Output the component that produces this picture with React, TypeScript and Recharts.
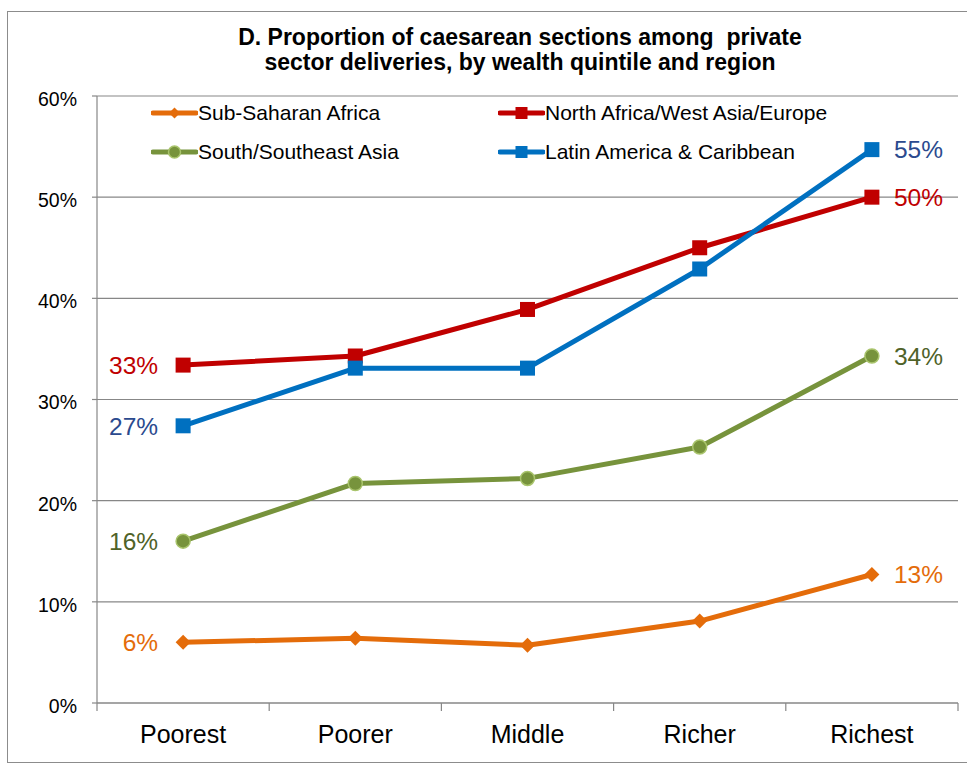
import React from 'react';
import { LineChart, Line, XAxis, YAxis, CartesianGrid, Legend, LabelList } from 'recharts';

// Wealth quintiles along the x axis
const quintiles = ['Poorest', 'Poorer', 'Middle', 'Richer', 'Richest'];

// Share of private-sector deliveries by caesarean section (%)
const subSaharanAfrica = [6.0, 6.4, 5.7, 8.1, 12.7];
const northAfricaWestAsiaEurope = [33.4, 34.3, 38.9, 45.0, 50.0];
const southSoutheastAsia = [16.0, 21.7, 22.2, 25.3, 34.3];
const latinAmericaCaribbean = [27.4, 33.1, 33.1, 42.9, 54.7];

// Y axis tick values (%)
const percentTicks = [0, 10, 20, 30, 40, 50, 60];

const titleLines = [
  'D. Proportion of caesarean sections among  private',
  'sector deliveries, by wealth quintile and region',
];

const FONT = "'Liberation Sans', Arial, sans-serif";
const AXIS_GRAY = '#878787';

type MarkerShape = 'diamond' | 'square' | 'circle';

interface SeriesDef {
  key: string;
  name: string;
  values: number[];
  color: string;
  labelColor: string;
  marker: MarkerShape;
}

// Drawing order keeps the blue line above the red one where they cross;
// the legend reads left-to-right, top-to-bottom in this same order.
const series: SeriesDef[] = [
  { key: 'ssa', name: 'Sub-Saharan Africa', values: subSaharanAfrica, color: '#E46C0A', labelColor: '#E46C0A', marker: 'diamond' },
  { key: 'nawae', name: 'North Africa/West Asia/Europe', values: northAfricaWestAsiaEurope, color: '#C00000', labelColor: '#C00000', marker: 'square' },
  { key: 'ssea', name: 'South/Southeast Asia', values: southSoutheastAsia, color: '#77933C', labelColor: '#4F6228', marker: 'circle' },
  { key: 'lac', name: 'Latin America & Caribbean', values: latinAmericaCaribbean, color: '#0070C0', labelColor: '#2B4A8E', marker: 'square' },
];

const rows = quintiles.map((q, i) => {
  const row: Record<string, number | string> = { pos: i + 1, quintile: q };
  series.forEach((s) => {
    row[s.key] = s.values[i];
  });
  return row;
});

// Category centres plus the boundaries between them (for the tick marks)
const xTicks = quintiles.flatMap((_, i) => [i + 0.5, i + 1]).concat(quintiles.length + 0.5);

function Marker({ shape, cx, cy, color, size }: { shape: MarkerShape; cx: number; cy: number; color: string; size: number }) {
  if (shape === 'diamond') {
    return (
      <polygon
        points={`${cx},${cy - size} ${cx + size},${cy} ${cx},${cy + size} ${cx - size},${cy}`}
        fill={color}
      />
    );
  }
  if (shape === 'square') {
    return <rect x={cx - size} y={cy - size} width={size * 2} height={size * 2} fill={color} />;
  }
  return <circle cx={cx} cy={cy} r={size} fill={color} stroke="#A9C46C" strokeWidth={1.5} />;
}

const CategoryTick = (props: any) => {
  const { x, y, payload } = props;
  const v = payload.value as number;
  if (Number.isInteger(v)) {
    return (
      <text x={x} y={y + 40} textAnchor="middle" fill="#000" fontSize={25} fontFamily={FONT}>
        {quintiles[v - 1]}
      </text>
    );
  }
  return <line x1={x} y1={y} x2={x} y2={y + 8} stroke={AXIS_GRAY} strokeWidth={1.2} />;
};

const PercentTick = (props: any) => {
  const { x, y, payload } = props;
  return (
    <text x={x} y={y + 3} dy="0.355em" textAnchor="end" fill="#000" fontSize={19.5} fontFamily={FONT}>
      {payload.value}%
    </text>
  );
};

const endLabel = (s: SeriesDef) => (props: any) => {
  const { x, y, value, index } = props;
  const last = s.values.length - 1;
  if (index !== 0 && index !== last) return null;
  const left = index === 0;
  return (
    <text
      key={`${s.key}-lbl-${index}`}
      x={left ? x - 25 : x + 22}
      y={y}
      dy="0.36em"
      textAnchor={left ? 'end' : 'start'}
      fill={s.labelColor}
      fontSize={24.5}
      fontFamily={FONT}
    >
      {Math.round(value)}%
    </text>
  );
};

const seriesIndex = (key: string) => series.findIndex((d) => d.key === key);

const renderLegend = (props: any) => {
  const payload: any[] = [...(props.payload || [])].sort(
    (a, b) => seriesIndex(a.dataKey) - seriesIndex(b.dataKey)
  );
  return (
    <div
      style={{
        display: 'grid',
        gridTemplateColumns: '347px 347px',
        gridAutoRows: '39px',
        fontFamily: FONT,
        fontSize: 21,
        color: '#000',
      }}
    >
      {payload.map((entry) => {
        const s = series[seriesIndex(entry.dataKey)];
        return (
          <div key={s.key} style={{ display: 'flex', alignItems: 'center', height: 39 }}>
            <svg width={47} height={20} style={{ display: 'block' }}>
              <line x1={2} y1={10} x2={45} y2={10} stroke={s.color} strokeWidth={5} strokeLinecap="round" />
              <Marker shape={s.marker} cx={23.5} cy={10} color={s.color} size={s.marker === 'diamond' ? 5.5 : 6} />
            </svg>
            <span style={{ whiteSpace: 'nowrap' }}>{entry.value}</span>
          </div>
        );
      })}
    </div>
  );
};

export default function App() {
  return (
    <div style={{ position: 'absolute', left: 0, top: 0, width: 967, height: 765, background: '#fff', overflow: 'hidden' }}>
      <div
        style={{
          position: 'absolute',
          left: 7,
          top: 11,
          width: 990,
          height: 750,
          border: '1.5px solid #8c8c8c',
        }}
      />
      <div
        style={{
          position: 'absolute',
          left: 170,
          top: 25,
          width: 700,
          textAlign: 'center',
          fontFamily: FONT,
          fontWeight: 'bold',
          fontSize: 23,
          lineHeight: '25px',
          color: '#000',
          whiteSpace: 'pre',
        }}
      >
        {titleLines.map((t) => (
          <div key={t}>{t}</div>
        ))}
      </div>
      <div style={{ position: 'absolute', left: 0, top: 0 }}>
        <LineChart width={967} height={765} data={rows} margin={{ top: 96, right: 9, left: 37, bottom: 12 }}>
          <CartesianGrid vertical={false} stroke={AXIS_GRAY} strokeWidth={1.2} />
          <XAxis
            dataKey="pos"
            type="number"
            domain={[0.5, quintiles.length + 0.5]}
            ticks={xTicks}
            interval={0}
            height={50}
            tickSize={0}
            tickMargin={0}
            tickLine={false}
            axisLine={{ stroke: AXIS_GRAY, strokeWidth: 1.2 }}
            tick={<CategoryTick />}
          />
          <YAxis
            type="number"
            domain={[0, 60]}
            ticks={percentTicks}
            interval={0}
            width={60}
            tickSize={5}
            tickMargin={15}
            axisLine={{ stroke: AXIS_GRAY, strokeWidth: 1.2 }}
            tickLine={{ stroke: AXIS_GRAY, strokeWidth: 1.2 }}
            tick={<PercentTick />}
          />
          <Legend
            layout="horizontal"
            align="center"
            verticalAlign="middle"
            content={renderLegend}
            wrapperStyle={{ left: 151, top: 93, width: 700 }}
          />
          {series.map((s) => (
            <Line
              key={s.key}
              dataKey={s.key}
              name={s.name}
              stroke={s.color}
              strokeWidth={5}
              strokeLinecap="round"
              strokeLinejoin="round"
              isAnimationActive={false}
              dot={(p: any) => (
                <Marker
                  key={`${s.key}-dot-${p.index}`}
                  shape={s.marker}
                  cx={p.cx}
                  cy={p.cy}
                  color={s.color}
                  size={s.marker === 'circle' ? 7 : 7.5}
                />
              )}
              activeDot={false}
            >
              <LabelList dataKey={s.key} content={endLabel(s)} />
            </Line>
          ))}
        </LineChart>
      </div>
    </div>
  );
}
